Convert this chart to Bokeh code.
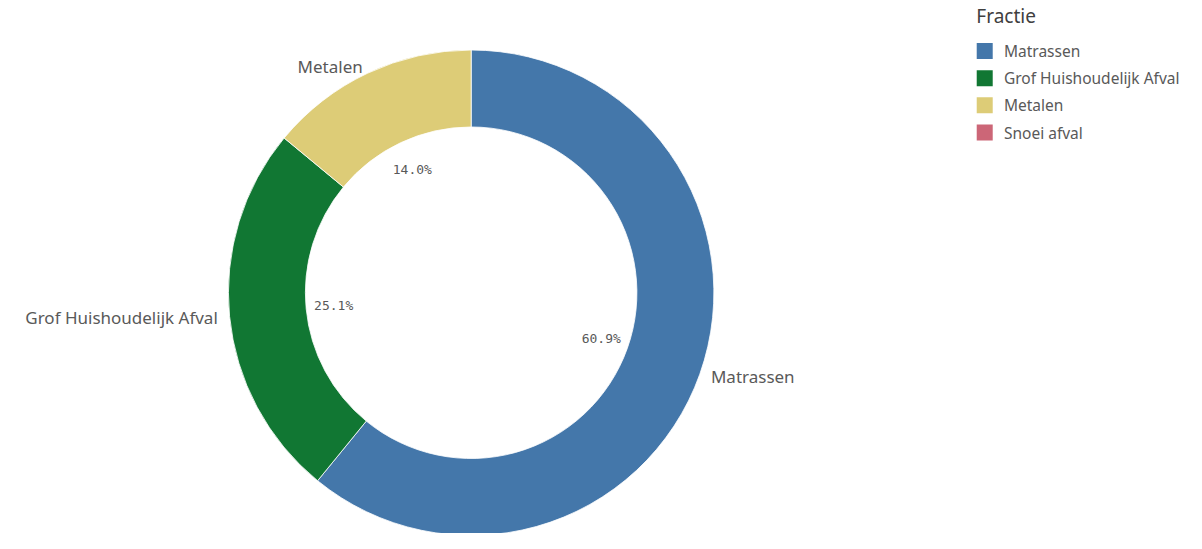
import numpy as np
from bokeh.plotting import figure
from bokeh.models import ColumnDataSource, Range1d
from bokeh.core.properties import value
from bokeh.embed import file_html
from bokeh.resources import INLINE

categories = ["Matrassen", "Grof Huishoudelijk Afval", "Metalen", "Snoei afval"]
percentages = [60.9, 25.1, 14.0, 0.0]
colors = ["#4477aa", "#117733", "#ddcc77", "#cc6677"]
legend_title = "Fractie"

# layout: data coordinates follow a 1202x549 frame (y measured downward -> data y = -y)
W, H = 1186, 533
CX, CY = 477, -301
R_OUT, R_IN = 246, 168
R_LBL_OUT = 258
R_LBL_IN = 140
FONT = "Noto Sans"
TXT = "#595959"

vals = np.array(percentages, dtype=float)
frac = vals / vals.sum()
cum = np.concatenate([[0.0], np.cumsum(frac)])
start = np.pi / 2 - 2 * np.pi * cum[:-1]
end = np.pi / 2 - 2 * np.pi * cum[1:]
mid = (start + end) / 2
mask = vals > 0

idx = [i for i in range(len(categories)) if mask[i]]
wedges = ColumnDataSource(dict(
    cat=[categories[i] for i in idx],
    start=[start[i] for i in idx],
    end=[end[i] for i in idx],
    color=[colors[i] for i in idx],
))

p = figure(width=W, height=H, output_backend="svg", toolbar_location=None,
           x_range=Range1d(0, 1202), y_range=Range1d(-549, 0),
           min_border=0, min_border_left=0, min_border_right=0,
           min_border_top=0, min_border_bottom=0)
p.axis.visible = False
p.grid.visible = False
p.outline_line_color = None
p.background_fill_color = "white"
p.border_fill_color = "white"

p.annular_wedge(x=CX, y=CY, inner_radius=R_IN, outer_radius=R_OUT,
                start_angle="start", end_angle="end", direction="clock",
                fill_color="color", line_color="white", line_width=0.8,
                source=wedges)

# outer category labels and inner percentage labels
ox, oy, oal, otx = [], [], [], []
ix, iy, itx = [], [], []
for i in idx:
    c, s = np.cos(mid[i]), np.sin(mid[i])
    ox.append(CX + R_LBL_OUT * c)
    oy.append(CY + R_LBL_OUT * s)
    oal.append("left" if c > 0 else "right")
    otx.append(categories[i])
    ix.append(CX + R_LBL_IN * c)
    iy.append(CY + R_LBL_IN * s)
    itx.append("%.1f%%" % percentages[i])

p.text(x="x", y="y", text="t", text_align="a",
       source=ColumnDataSource(dict(x=ox, y=oy, t=otx, a=oal)),
       text_baseline="middle", text_font=value(FONT), text_font_size="17px",
       text_color=TXT)
p.text(x=ix, y=iy, text=itx, text_align="center", text_baseline="middle",
       text_font=value("DejaVu Sans Mono"), text_font_size="13px",
       text_color=TXT)

# legend (manual)
LX, LY0, LDY = 997.5, 52, 28
ly = [-(LY0 + LDY * i) for i in range(len(categories))]
p.scatter(x=[LX] * len(categories), y=ly, marker="square", size=16,
          fill_color=colors, line_color=None)
p.text(x=[LX + 19.5] * len(categories), y=ly, text=categories,
       text_align="left", text_baseline="middle", text_font=value(FONT),
       text_font_size="15.5px", text_color=TXT)
p.text(x=[989], y=[-16], text=[legend_title], text_align="left",
       text_baseline="middle", text_font=value(FONT), text_font_size="19px",
       text_color="#404040")

open("out.html", "w").write(file_html(p, INLINE))
